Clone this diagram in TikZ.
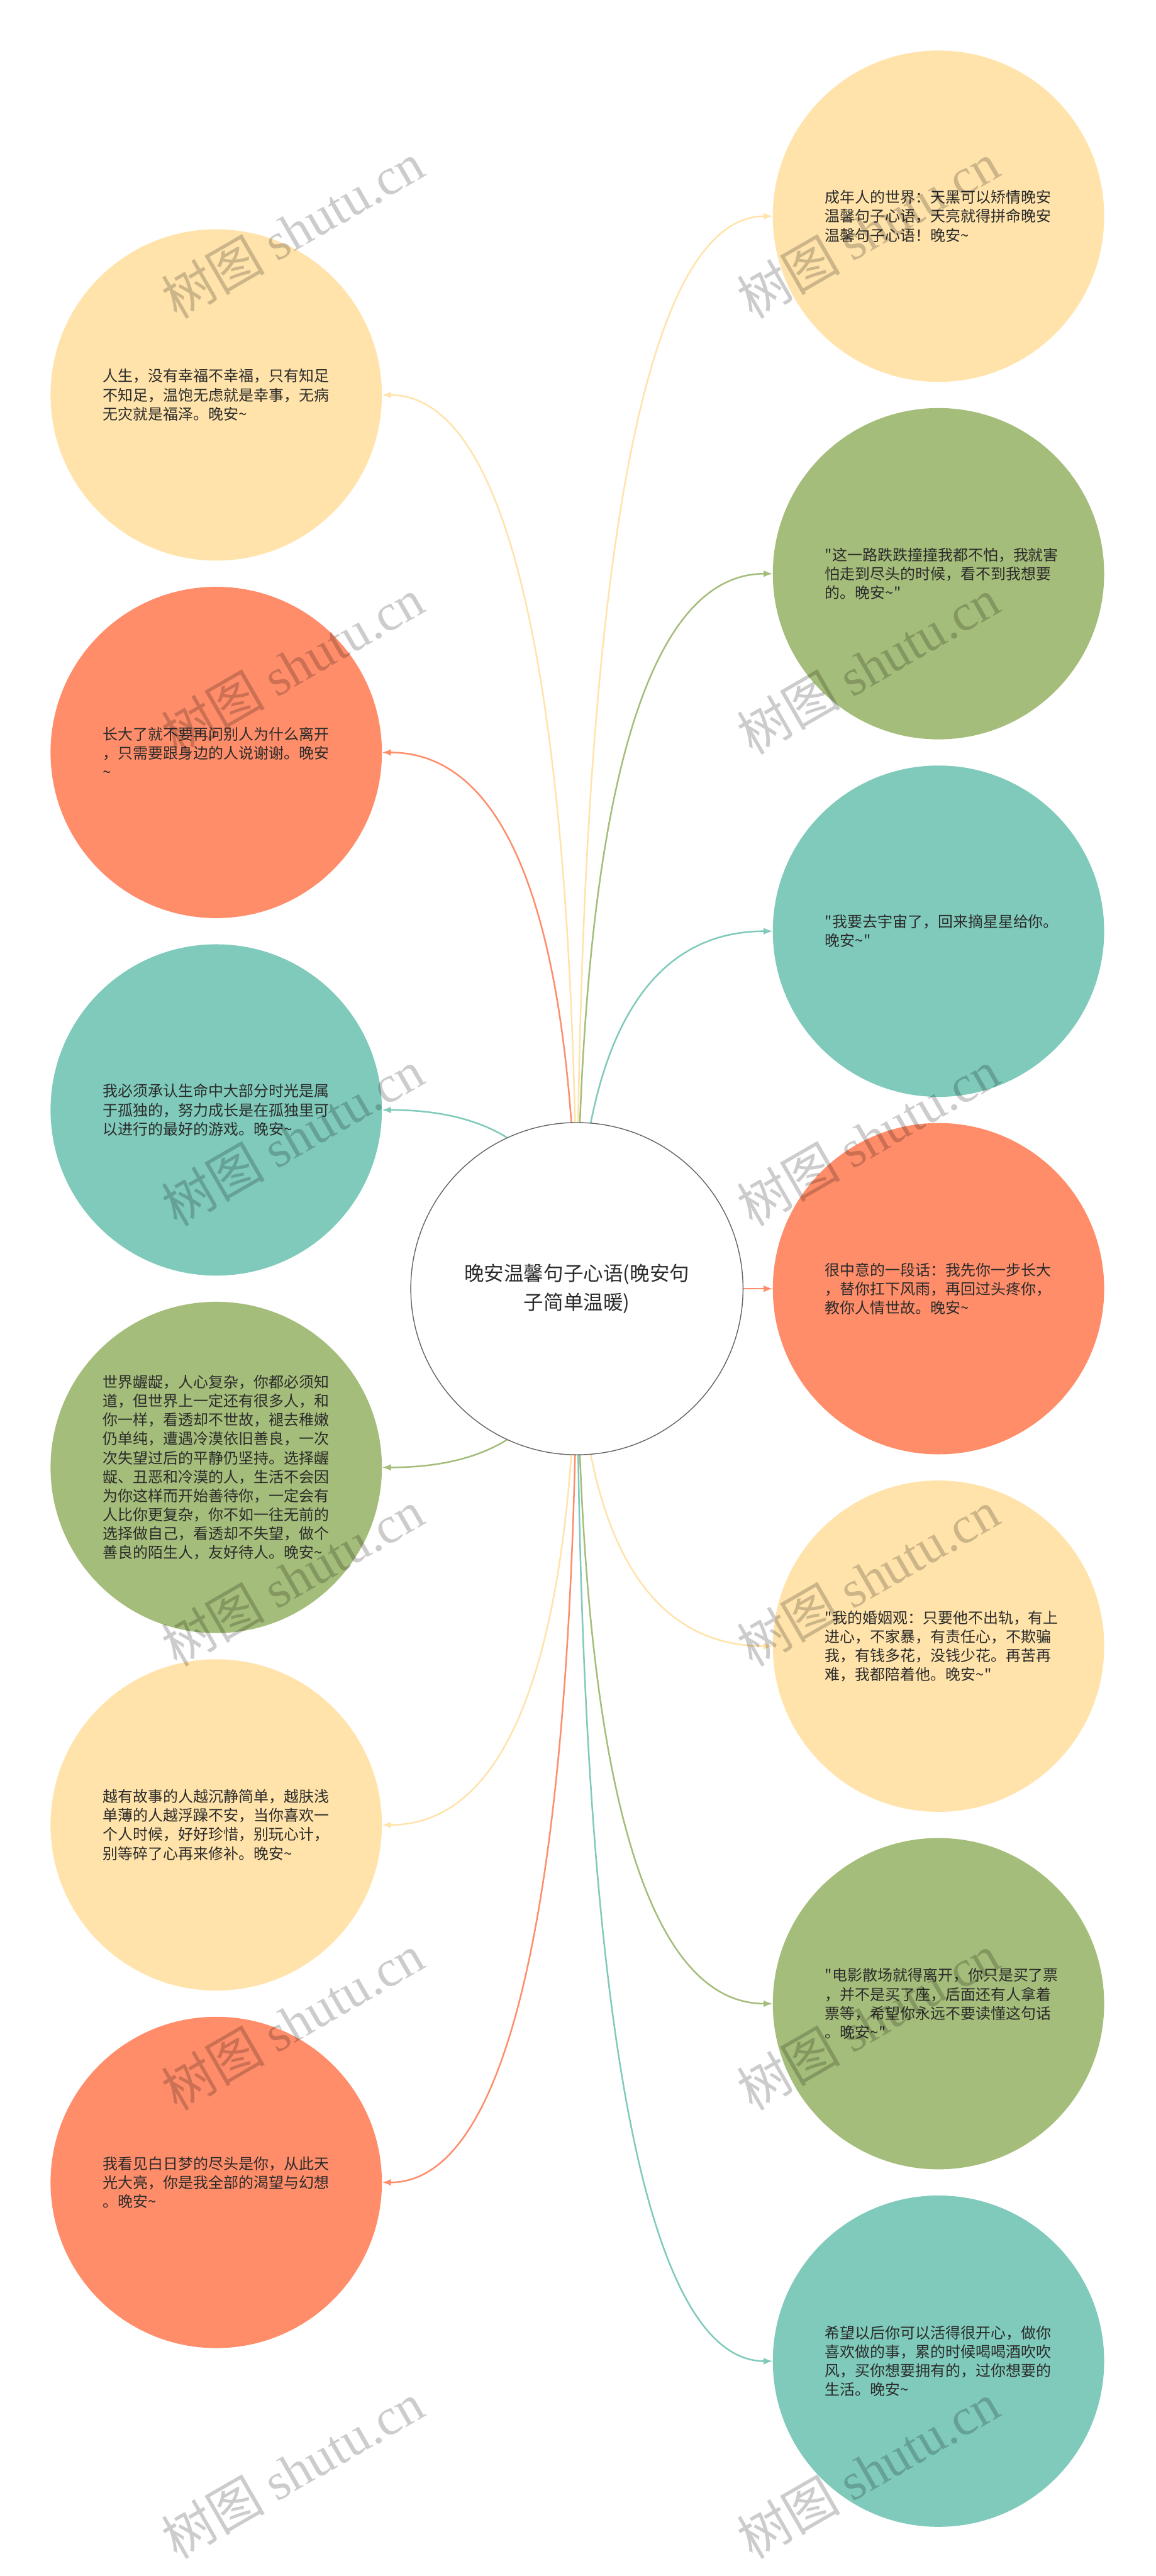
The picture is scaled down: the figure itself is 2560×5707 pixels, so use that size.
\documentclass[tikz,border=0pt]{standalone}
\usepackage{fontspec}
\newfontfamily\cjkfont{Noto Sans CJK SC}
\newfontfamily\wmlatin{Liberation Serif}
\usetikzlibrary{arrows.meta,calc,backgrounds}
\definecolor{cyel}{HTML}{FFE3AA}
\definecolor{cora}{HTML}{FF8D6A}
\definecolor{ctea}{HTML}{7FCABB}
\definecolor{cgre}{HTML}{A5BD7A}
\definecolor{ctxt}{HTML}{2B2B2B}
\definecolor{chub}{HTML}{666666}
\newcommand\tld{\textasciitilde}
\newcommand\linkleft[2]{\draw[link,draw=#2] (hub.center) .. controls ($(hub.center)!2/3!(hub.center|-#1.east)$) and ($(#1.east)!2/3!(hub.center|-#1.east)$) .. (#1.east);}
\newcommand\linkright[2]{\draw[link,draw=#2] (hub.center) .. controls ($(hub.center)!2/3!(hub.center|-#1.west)$) and ($(#1.west)!2/3!(hub.center|-#1.west)$) .. (#1.west);}
\tikzset{
  bubble/.style={circle, minimum size=734pt, inner sep=0pt, text width=502pt, align=left,
    font=\cjkfont\fontsize{33.4}{42}\selectfont, text=ctxt},
  hubnode/.style={circle, minimum size=736pt, inner sep=0pt, draw=chub, fill=white, line width=2pt,
    text width=520pt, align=center, font=\cjkfont\fontsize{44}{64}\selectfont, text=ctxt},
  link/.style={line width=3.5pt, -{Latex[length=20pt,width=15pt]}},
  wm/.style={rotate=30, text=black, text opacity=0.2, inner sep=0pt, font=\cjkfont\fontsize{115}{115}\selectfont}
}
\begin{document}
\begin{tikzpicture}[x=1pt,y=-1pt]
\useasboundingbox (0,0) rectangle (2560,5707);
% hub
\node[hubnode] (hub) at (1278,2855) {晚安温馨句子心语(晚安句\\子简单温暖)};
% left column
\node[bubble, fill=cyel] (L1) at (479,875) {人生，没有幸福不幸福，只有知足\\不知足，温饱无虑就是幸事，无病\\无灾就是福泽。晚安\tld};
\node[bubble, fill=cora] (L2) at (479,1667) {长大了就不要再问别人为什么离开\\，只需要跟身边的人说谢谢。晚安\\\tld};
\node[bubble, fill=ctea] (L3) at (479,2459) {我必须承认生命中大部分时光是属\\于孤独的，努力成长是在孤独里可\\以进行的最好的游戏。晚安\tld};
\node[bubble, fill=cgre] (L4) at (479,3251) {世界龌龊，人心复杂，你都必须知\\道，但世界上一定还有很多人，和\\你一样，看透却不世故，褪去稚嫩\\仍单纯，遭遇冷漠依旧善良，一次\\次失望过后的平静仍坚持。选择龌\\龊、丑恶和冷漠的人，生活不会因\\为你这样而开始善待你，一定会有\\人比你更复杂，你不如一往无前的\\选择做自己，看透却不失望，做个\\善良的陌生人，友好待人。晚安\tld};
\node[bubble, fill=cyel] (L5) at (479,4043) {越有故事的人越沉静简单，越肤浅\\单薄的人越浮躁不安，当你喜欢一\\个人时候，好好珍惜，别玩心计，\\别等碎了心再来修补。晚安\tld};
\node[bubble, fill=cora] (L6) at (479,4835) {我看见白日梦的尽头是你，从此天\\光大亮，你是我全部的渴望与幻想\\。晚安\tld};
% right column
\node[bubble, fill=cyel] (R1) at (2079,479) {成年人的世界：天黑可以矫情晚安\\温馨句子心语，天亮就得拼命晚安\\温馨句子心语！晚安\tld};
\node[bubble, fill=cgre] (R2) at (2079,1271) {"这一路跌跌撞撞我都不怕，我就害\\怕走到尽头的时候，看不到我想要\\的。晚安\tld"};
\node[bubble, fill=ctea] (R3) at (2079,2063) {"我要去宇宙了，回来摘星星给你。\\晚安\tld"};
\node[bubble, fill=cora] (R4) at (2079,2855) {很中意的一段话：我先你一步长大\\，替你扛下风雨，再回过头疼你，\\教你人情世故。晚安\tld};
\node[bubble, fill=cyel] (R5) at (2079,3647) {"我的婚姻观：只要他不出轨，有上\\进心，不家暴，有责任心，不欺骗\\我，有钱多花，没钱少花。再苦再\\难，我都陪着他。晚安\tld"};
\node[bubble, fill=cgre] (R6) at (2079,4439) {"电影散场就得离开，你只是买了票\\，并不是买了座，后面还有人拿着\\票等，希望你永远不要读懂这句话\\。晚安\tld"};
\node[bubble, fill=ctea] (R7) at (2079,5231) {希望以后你可以活得很开心，做你\\喜欢做的事，累的时候喝喝酒吹吹\\风，买你想要拥有的，过你想要的\\生活。晚安\tld};
% connectors
\begin{scope}[on background layer]
\fill[white] (0,0) rectangle (2560,5707);
\linkleft{L1}{cyel}
\linkleft{L2}{cora}
\linkleft{L3}{ctea}
\linkleft{L4}{cgre}
\linkleft{L5}{cyel}
\linkleft{L6}{cora}
\linkright{R1}{cyel}
\linkright{R2}{cgre}
\linkright{R3}{ctea}
\draw[link,draw=cora] (hub.center) -- (R4.west);
\linkright{R5}{cyel}
\linkright{R6}{cgre}
\linkright{R7}{ctea}
\end{scope}
% watermarks
\node[wm] (w1) at (648,510) {树图 {\wmlatin shutu.cn}};
\node[wm] (w2) at (648,1475) {树图 {\wmlatin shutu.cn}};
\node[wm] (w3) at (648,2520) {树图 {\wmlatin shutu.cn}};
\node[wm] (w4) at (648,3496) {树图 {\wmlatin shutu.cn}};
\node[wm] (w5) at (648,4479) {树图 {\wmlatin shutu.cn}};
\node[wm] (w6) at (648,5473) {树图 {\wmlatin shutu.cn}};
\node[wm] (w7) at (1923,510) {树图 {\wmlatin shutu.cn}};
\node[wm] (w8) at (1923,1475) {树图 {\wmlatin shutu.cn}};
\node[wm] (w9) at (1923,2520) {树图 {\wmlatin shutu.cn}};
\node[wm] (w10) at (1923,3496) {树图 {\wmlatin shutu.cn}};
\node[wm] (w11) at (1923,4479) {树图 {\wmlatin shutu.cn}};
\node[wm] (w12) at (1923,5473) {树图 {\wmlatin shutu.cn}};
\end{tikzpicture}
\end{document}
